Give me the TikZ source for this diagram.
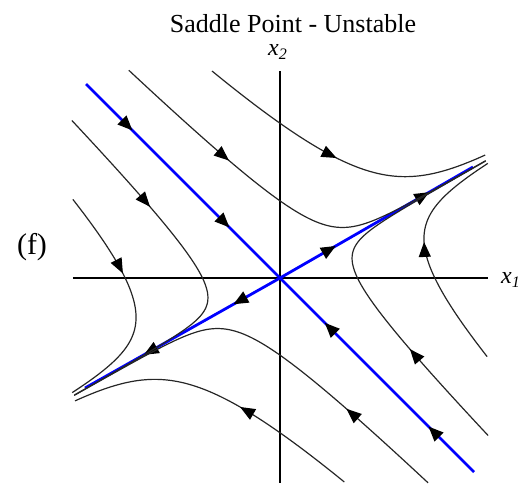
\documentclass[tikz,border=0pt]{standalone}
\usepackage{fontspec}
\setmainfont{Liberation Serif}
\usetikzlibrary{arrows.meta,decorations.markings}

\begin{document}
\begin{tikzpicture}[x=50pt, y=50pt,
  declare function={sx(\t,\s,\k)=0.869*\s*exp(\t)+0.707*\k*exp(-4.3*\t);
                    sy(\t,\s,\k)=0.495*\s*exp(\t)-0.707*\k*exp(-4.3*\t);},
  traj/.style={black!85, line width=0.6pt},
  eigen/.style={blue, line width=1.4pt},
  axis/.style={black, line width=0.7pt},
  flow/.style={postaction={decorate, decoration={markings,
      mark=at position #1 with {\arrow[black]{Triangle[length=7.5pt,width=6pt]}}}}},
  flowtwo/.style 2 args={postaction={decorate, decoration={markings,
      mark=at position #1 with {\arrow[black]{Triangle[length=7.5pt,width=6pt]}},
      mark=at position #2 with {\arrow[black]{Triangle[length=7.5pt,width=6pt]}}}}}]
  \useasboundingbox (-2.80,-2.05) rectangle (2.42,2.78);

  % axes
  \coordinate (O) at (0,0);
  \coordinate (xl) at (-2.07,0);
  \coordinate (xr) at (2.08,0);
  \coordinate (yt) at (0,2.07);
  \coordinate (yb) at (0,-2.05);
  \draw[axis] (xl) -- (xr);
  \draw[axis] (yt) -- (yb);
  \node[font=\fontsize{13}{15}\selectfont] (title) at (0.13,2.54) {Saddle Point - Unstable};
  \node[font=\fontsize{12}{14}\selectfont] (ylab) at (-0.02,2.26) {\textit{x}\textsubscript{\textit{2}}};
  \node[font=\fontsize{12}{14}\selectfont] (xlab) at (2.31,-0.02) {\textit{x}\textsubscript{\textit{1}}};
  \node[font=\fontsize{15}{17}\selectfont] (panel) at (-2.48,0.31) {(f)};

  % eigenvectors
  \coordinate (s1) at (-1.94,1.94);
  \coordinate (s2) at (1.94,-1.94);
  \coordinate (u1) at (1.93,1.11);
  \coordinate (u2) at (-1.95,-1.10);
  \draw[eigen, flowtwo={0.24}{0.74}] (s1) -- (O);
  \draw[eigen, flowtwo={0.235}{0.77}] (s2) -- (O);
  \draw[eigen, flowtwo={0.29}{0.775}] (O) -- (u1);
  \draw[eigen, flowtwo={0.24}{0.70}] (O) -- (u2);

  % trajectories: u = s e^t along (0.869,0.495), w = k e^{-4.3t} along (0.707,-0.707)
  \draw[traj, flow=0.295] plot[domain=-0.9916:0.8629, samples=200] ({sx(\x,-1,-0.035)}, {sy(\x,-1,-0.035)});
  \draw[traj, flow=0.375] plot[domain=-0.0598:0.8629, samples=200] ({sx(\x,-1,-1.37)}, {sy(\x,-1,-1.37)});
  \draw[traj, flow=0.315] plot[domain=-0.8807:0.8629, samples=200] ({sx(\x,1,-0.06)}, {sy(\x,1,-0.06)});
  \draw[traj, flow=0.495] plot[domain=0.0188:0.8796, samples=200] ({sx(\x,1,-2.4)}, {sy(\x,1,-2.4)});
  \draw[traj, flow=0.295] plot[domain=-0.9916:0.8629, samples=200] ({sx(\x,1,0.035)}, {sy(\x,1,0.035)});
  \draw[traj, flow=0.555] plot[domain=-0.0598:0.8629, samples=200] ({sx(\x,1,1.37)}, {sy(\x,1,1.37)});
  \draw[traj, flow=0.26] plot[domain=-0.8771:0.8629, samples=200] ({sx(\x,-1,0.06)}, {sy(\x,-1,0.06)});
  \draw[traj, flow=0.425] plot[domain=0.0237:0.8796, samples=200] ({sx(\x,-1,2.4)}, {sy(\x,-1,2.4)});
\end{tikzpicture}
\end{document}
